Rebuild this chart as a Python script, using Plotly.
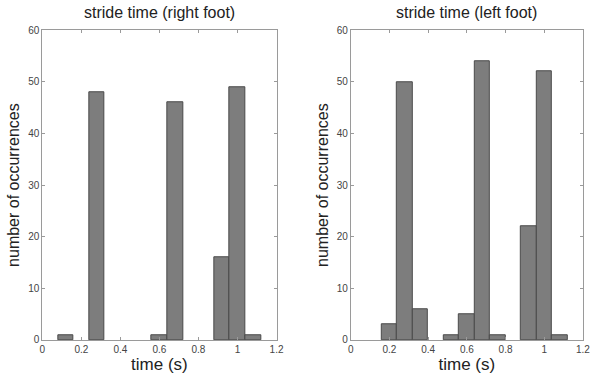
import plotly.graph_objects as go

bin_width = 0.08
right_centres = [0.12, 0.28, 0.60, 0.68, 0.92, 1.00, 1.08]
right_counts = [1, 48, 1, 46, 16, 49, 1]
left_centres = [0.20, 0.28, 0.36, 0.52, 0.60, 0.68, 0.76, 0.92, 1.00, 1.08]
left_counts = [3, 50, 6, 1, 5, 54, 1, 22, 52, 1]
x_ticks = [0, 0.2, 0.4, 0.6, 0.8, 1.0, 1.2]
x_tick_text = ["0", "0.2", "0.4", "0.6", "0.8", "1", "1.2"]
y_ticks = [0, 10, 20, 30, 40, 50, 60]
titles = ["stride time (right foot)", "stride time (left foot)"]

bar_style = dict(marker=dict(color="#7d7d7d", line=dict(color="#4a4a4a", width=1)),
                 width=bin_width, showlegend=False)

fig = go.Figure()
fig.add_trace(go.Bar(x=right_centres, y=right_counts, xaxis="x", yaxis="y", **bar_style))
fig.add_trace(go.Bar(x=left_centres, y=left_counts, xaxis="x2", yaxis="y2", **bar_style))

ax_common = dict(showline=True, linecolor="#9a9a9a", linewidth=1, mirror="ticks",
                 ticks="inside", ticklen=3, tickcolor="#9a9a9a", showgrid=False,
                 zeroline=False, tickfont=dict(family="Liberation Sans, Arial", size=10, color="#444"))

xt = dict(text="time (s)", font=dict(family="Liberation Sans, Arial", size=17, color="#222"), standoff=0)
yt = dict(text="number of occurrences", font=dict(family="Liberation Sans, Arial", size=16, color="#222"), standoff=4)

title_font = dict(family="Liberation Sans, Arial", size=16, color="#222")

fig.update_layout(
    width=597, height=374, margin=dict(l=0, r=0, t=0, b=0),
    paper_bgcolor="white", plot_bgcolor="white", bargap=0,
    xaxis=dict(domain=[0.067, 0.466], range=[0, 1.2], tickvals=x_ticks, ticktext=x_tick_text,
               title=xt, anchor="y", **ax_common),
    yaxis=dict(domain=[0.0775, 0.933], range=[0, 60], tickvals=y_ticks,
               title=yt, anchor="x", **ax_common),
    xaxis2=dict(domain=[0.5925, 0.988], range=[0, 1.2], tickvals=x_ticks, ticktext=x_tick_text,
                title=xt, anchor="y2", **ax_common),
    yaxis2=dict(domain=[0.0775, 0.933], range=[0, 60], tickvals=y_ticks,
                title=yt, anchor="x2", **ax_common),
    annotations=[
        dict(text=titles[0], x=0.2665, y=0.983, xref="paper", yref="paper", showarrow=False,
             xanchor="center", yanchor="middle", font=title_font),
        dict(text=titles[1], x=0.790, y=0.983, xref="paper", yref="paper", showarrow=False,
             xanchor="center", yanchor="middle", font=title_font),
    ],
)

fig.write_html("out.html")
